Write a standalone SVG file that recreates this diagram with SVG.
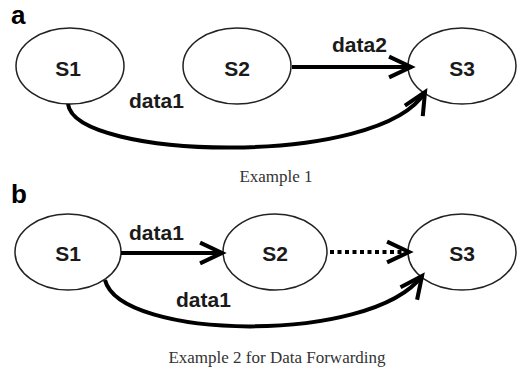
<svg xmlns="http://www.w3.org/2000/svg" width="517" height="369" viewBox="0 0 517 369">
<style>
.node ellipse{fill:#fff;stroke:#222;stroke-width:1.5}
.lbl{font-family:"Liberation Sans",Arial,sans-serif;font-weight:bold;font-size:21px;fill:#1a1a1a}
.nl{text-anchor:middle}
.edge{fill:none;stroke:#000;stroke-width:4}
.dot{stroke-dasharray:4 3.5}
.panel{font-family:"Liberation Sans",Arial,sans-serif;font-weight:bold;font-size:26px;fill:#000}
.cap{font-family:"Liberation Serif","Times New Roman",serif;font-size:17px;fill:#333;text-anchor:middle}
</style>
<defs>
<marker id="arr" markerUnits="userSpaceOnUse" markerWidth="30" markerHeight="30" viewBox="-22 -12 26 24" refX="0" refY="0" orient="auto">
<path d="M-19,-9 L0,0 L-19,9" fill="none" stroke="#000" stroke-width="3.5" stroke-linejoin="miter"/>
</marker>
</defs>
<text class="panel" x="11" y="24">a</text>
<text class="panel" x="11" y="203">b</text>
<g id="a-S1" class="node"><ellipse cx="70" cy="66" rx="54" ry="38"/><text class="lbl nl" x="68" y="76">S1</text></g>
<g id="a-S2" class="node"><ellipse cx="237" cy="66" rx="54" ry="38"/><text class="lbl nl" x="237" y="76">S2</text></g>
<g id="a-S3" class="node"><ellipse cx="462" cy="66" rx="54" ry="38"/><text class="lbl nl" x="462" y="76">S3</text></g>
<g id="b-S1" class="node"><ellipse cx="68" cy="252" rx="53" ry="38"/><text class="lbl nl" x="68" y="261">S1</text></g>
<g id="b-S2" class="node"><ellipse cx="275" cy="252" rx="52" ry="38"/><text class="lbl nl" x="275" y="261">S2</text></g>
<g id="b-S3" class="node"><ellipse cx="462" cy="252" rx="54" ry="38"/><text class="lbl nl" x="462" y="261">S3</text></g>
<g id="connectors">
<path class="edge" d="M292,67 L411,67" marker-end="url(#arr)"/>
<path class="edge" d="M68,104 C75,160 380,168 425,92" marker-end="url(#arr)"/>
<path class="edge" d="M121,253 L222,253" marker-end="url(#arr)"/>
<path class="edge dot" d="M330,252 L409,252" marker-end="url(#arr)"/>
<path class="edge" d="M105,280 C120,340 370,345 422,276" marker-end="url(#arr)"/>
</g>
<text class="lbl" x="332" y="52">data2</text>
<text class="lbl" x="129" y="108">data1</text>
<text class="lbl" x="129" y="240">data1</text>
<text class="lbl" x="176" y="307">data1</text>
<text class="cap" x="276" y="182">Example 1</text>
<text class="cap" x="277" y="363">Example 2 for Data Forwarding</text>
</svg>
